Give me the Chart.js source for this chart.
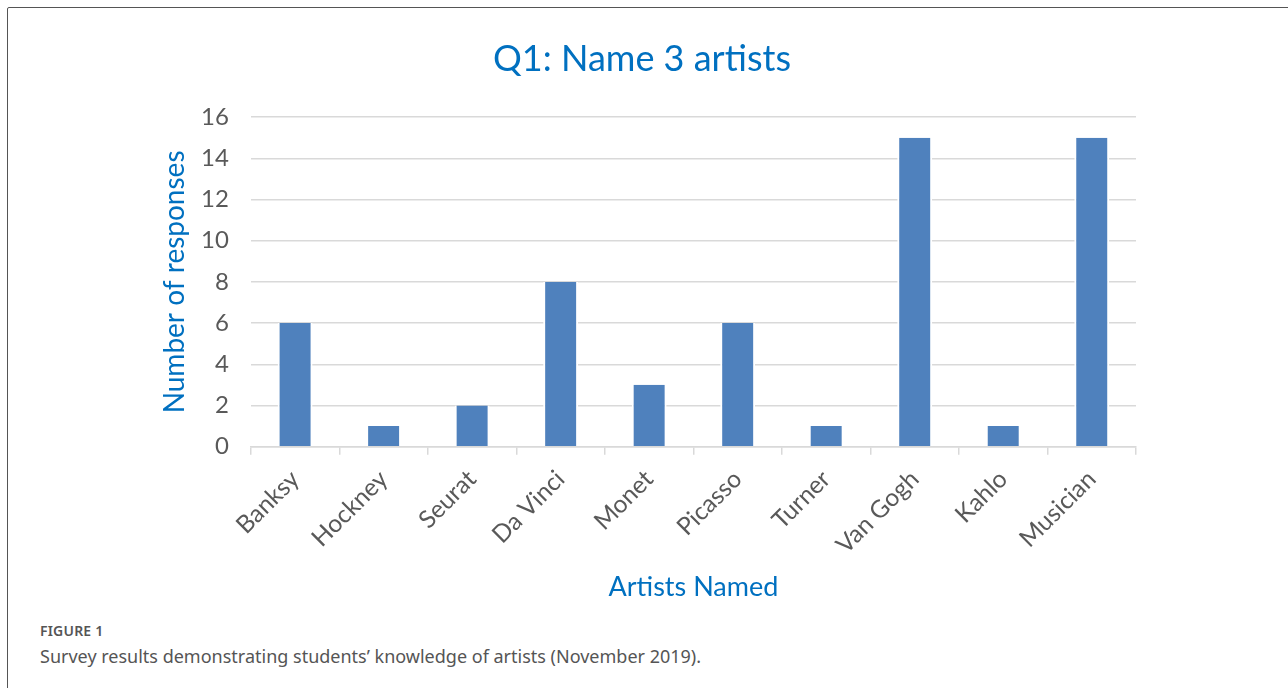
<!DOCTYPE html>
<html>
<head>
<meta charset="utf-8">
<script src="https://cdn.jsdelivr.net/npm/chart.js@4"></script>
<style>
    html, body { margin: 0; padding: 0; background: #fff; }
    body { width: 1288px; height: 688px; position: relative; overflow: hidden; }
    .frame {
        position: absolute; left: 7px; top: 7px; width: 1300px; height: 700px;
        border: 1.5px solid #555; border-radius: 2px; box-sizing: border-box;
    }
    .chart-box { position: absolute; left: 8px; top: 8px; width: 1272px; height: 604px; }
    .fig-label {
        position: absolute; left: 40px; top: 621px; font-family: "Noto Sans", sans-serif;
        font-size: 14px; font-weight: 600; color: #555; letter-spacing: 0.2px;
    }
    .fig-caption {
        position: absolute; left: 40px; top: 644px; font-family: "Noto Sans", sans-serif;
        font-size: 18px; color: #555;
    }
</style>
</head>
<body>
<div class="frame"></div>
<div class="chart-box"><canvas id="artistsChart"></canvas></div>
<div class="fig-label">FIGURE 1</div>
<div class="fig-caption">Survey results demonstrating students’ knowledge of artists (November 2019).</div>

<script>
    // Survey data
    const artists = ['Banksy', 'Hockney', 'Seurat', 'Da Vinci', 'Monet', 'Picasso', 'Turner', 'Van Gogh', 'Kahlo', 'Musician'];
    const responses = [6, 1, 2, 8, 3, 6, 1, 15, 1, 15];
    const yTicks = [0, 2, 4, 6, 8, 10, 12, 14, 16];

    const blue = '#0070C0';
    const gray = '#595959';
    const gridGray = '#d9d9d9';
    const fontFamily = 'Lato, "Open Sans", sans-serif';

    const ctx = document.getElementById('artistsChart').getContext('2d');
    const artistsChart = new Chart(ctx, {
        type: 'bar',
        data: {
            labels: artists,
            datasets: [{
                label: 'Responses',
                data: responses,
                backgroundColor: '#4F81BD',
                // white edge so gridlines stop short of the bars, like Excel
                borderColor: '#ffffff',
                borderWidth: { left: 2, right: 2, top: 0, bottom: 0 },
                borderSkipped: false,
                barPercentage: 0.79,
                categoryPercentage: 0.5
            }]
        },
        options: {
            responsive: true,
            maintainAspectRatio: false,
            animation: false,
            layout: {
                padding: { left: 140, right: 144, top: 20, bottom: 9 }
            },
            scales: {
                y: {
                    min: 0,
                    max: 16,
                    afterBuildTicks: function (axis) {
                        axis.ticks = yTicks.map(v => ({ value: v }));
                    },
                    border: { display: false },
                    grid: { color: gridGray, lineWidth: 1.5, drawTicks: false },
                    ticks: {
                        color: gray,
                        padding: 22,
                        font: { family: fontFamily, size: 24 }
                    },
                    title: {
                        display: true,
                        text: 'Number of responses',
                        color: blue,
                        padding: { top: 13, bottom: -10 },
                        font: { family: fontFamily, size: 28, lineHeight: 1 }
                    }
                },
                x: {
                    border: { display: true, color: gridGray, width: 1.5 },
                    grid: {
                        offset: true,
                        drawOnChartArea: false,
                        drawTicks: true,
                        tickLength: 8,
                        color: gridGray,
                        lineWidth: 1.5
                    },
                    ticks: {
                        color: gray,
                        minRotation: 45,
                        maxRotation: 45,
                        padding: 10,
                        font: { family: fontFamily, size: 24.5 }
                    },
                    title: {
                        display: true,
                        text: 'Artists Named',
                        color: blue,
                        padding: { top: 1, bottom: 0 },
                        font: { family: fontFamily, size: 27 }
                    }
                }
            },
            plugins: {
                legend: { display: false },
                tooltip: { enabled: false },
                title: {
                    display: true,
                    text: 'Q1: Name 3 artists',
                    color: blue,
                    padding: { top: 10, bottom: 36 },
                    font: { family: fontFamily, size: 36, weight: 'normal' }
                }
            }
        }
    });
</script>
</body>
</html>
